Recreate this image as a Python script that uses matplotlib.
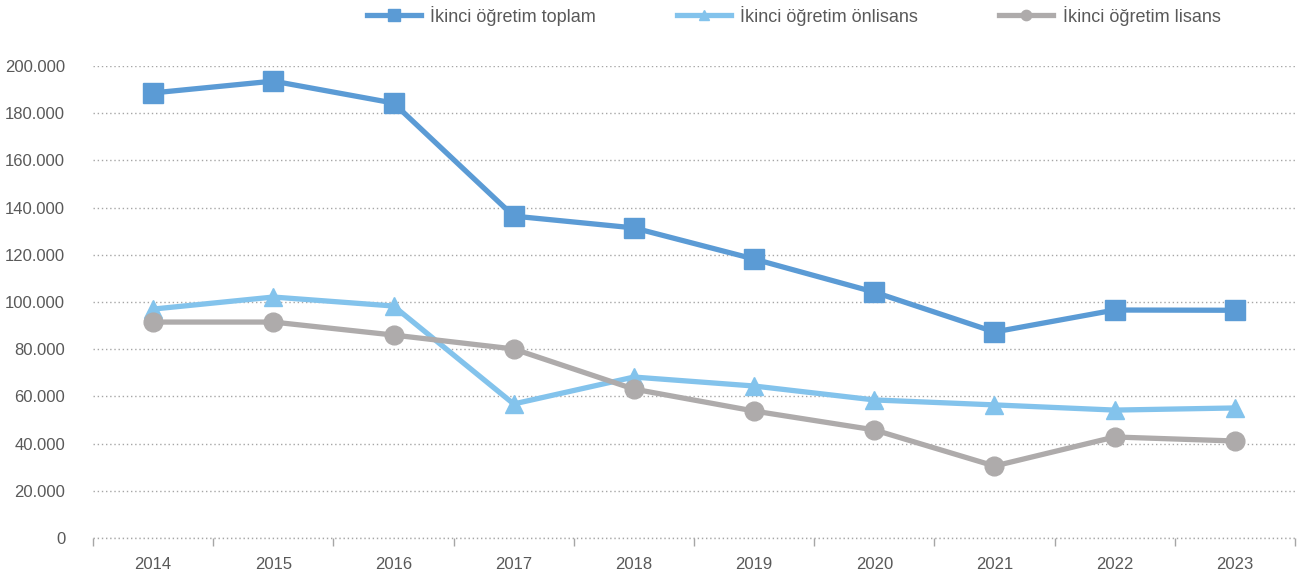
import matplotlib.pyplot as plt
import matplotlib.ticker as mticker

plt.rcParams["font.family"] = ["Liberation Sans", "DejaVu Sans"]

years = ["2014", "2015", "2016", "2017", "2018", "2019", "2020", "2021", "2022", "2023"]
toplam = [188600, 193600, 184300, 136400, 131400, 118200, 104200, 87300, 96600, 96500]
onlisans = [97000, 102100, 98300, 56800, 68200, 64400, 58500, 56400, 54200, 55100]
lisans = [91500, 91500, 86000, 80100, 63100, 53800, 45800, 30500, 42800, 41100]

labels = ["İkinci öğretim toplam", "İkinci öğretim önlisans", "İkinci öğretim lisans"]
colors = ["#5B9BD5", "#83C3EC", "#AEABAB"]
markers = ["s", "^", "o"]
sizes = [14.5, 13.5, 13.5]

fig = plt.figure(figsize=(13.01, 5.81), dpi=100)
ax = fig.add_axes([93 / 1301, 43 / 581, (1295 - 93) / 1301, (538 - 66) / 581])

x = list(range(len(years)))
for vals, lab, c, m, s in zip([toplam, onlisans, lisans], labels, colors, markers, sizes):
    ax.plot(x, vals, color=c, lw=3.8, marker=m, ms=s, label=lab, clip_on=False, zorder=3)

ax.set_xlim(-0.5, len(years) - 0.5)
ax.set_ylim(0, 200000)
ax.yaxis.set_major_locator(mticker.MultipleLocator(20000))
ax.yaxis.set_major_formatter(mticker.FuncFormatter(lambda v, p: f"{int(v):,}".replace(",", ".")))
ax.grid(axis="y", color="#A6A6A6", ls=(0, (1, 2)), lw=1)
ax.axhline(0, color="#A6A6A6", ls=(0, (1, 2)), lw=1, clip_on=False, zorder=1)
ax.set_axisbelow(True)
for sp in ax.spines.values():
    sp.set_visible(False)

ax.set_xticks(x)
ax.set_xticklabels(years)
ax.set_xticks([i - 0.5 for i in range(len(years) + 1)], minor=True)
ax.tick_params(axis="x", which="major", length=0, pad=14, labelsize=12, labelcolor="#595959")
ax.tick_params(axis="x", which="minor", length=6, color="#A6A6A6", width=1)
ax.tick_params(axis="y", length=0, pad=20, labelsize=12, labelcolor="#595959")

fig.legend(loc="upper center", bbox_to_anchor=(0.61, 1.018), ncol=3, frameon=False,
           fontsize=13, labelcolor="#595959", markerscale=0.55, handlelength=3.0,
           columnspacing=4.5, handletextpad=0.5)

fig.savefig("out.png", dpi=100)
